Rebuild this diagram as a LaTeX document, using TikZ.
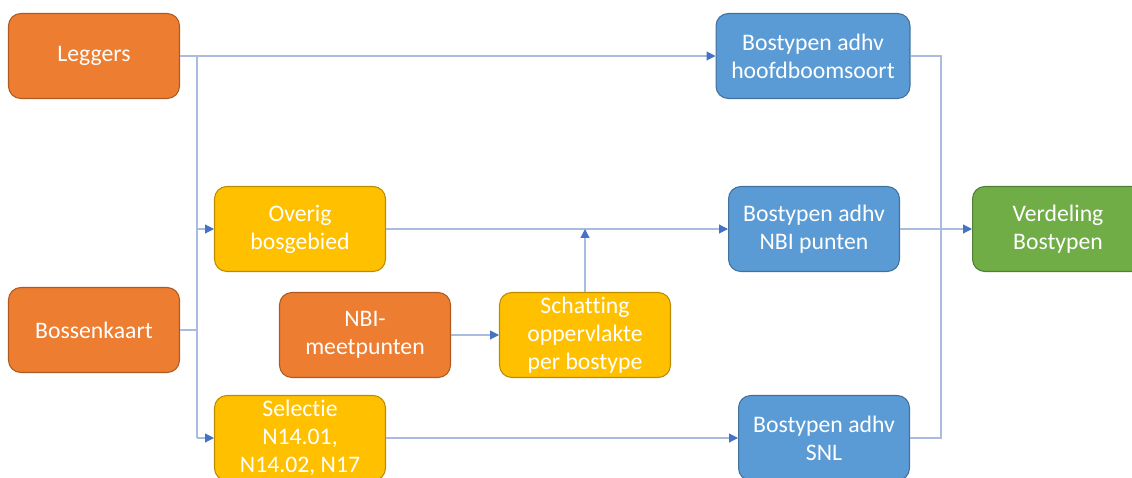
\documentclass[tikz,border=0pt]{standalone}
\usepackage{fontspec}
\setmainfont{Carlito}[Ligatures=NoCommon]
\usepackage{xcolor}
\usepackage{tikz}
\usetikzlibrary{arrows.meta}

\definecolor{srcorange}{HTML}{ED7D31}
\definecolor{srcedge}{HTML}{AE5A21}
\definecolor{stepyellow}{HTML}{FFC000}
\definecolor{stepedge}{HTML}{BC8C00}
\definecolor{typeblue}{HTML}{5B9BD5}
\definecolor{typeedge}{HTML}{41719C}
\definecolor{endgreen}{HTML}{70AD47}
\definecolor{endedge}{HTML}{507E32}
\definecolor{linkline}{HTML}{A9BCE0}
\definecolor{linkhead}{HTML}{4472C4}

\tikzset{
  box/.style={rounded corners=7pt, line width=0.6pt, minimum height=1.7cm,
    minimum width=3.42cm, inner sep=0pt, align=center, text=white,
    font=\fontsize{13.5}{15.9}\selectfont},
  srcbox/.style={box, draw=srcedge, fill=srcorange},
  stepbox/.style={box, draw=stepedge, fill=stepyellow},
  typebox/.style={box, draw=typeedge, fill=typeblue},
  endbox/.style={box, draw=endedge, fill=endgreen},
  wire/.style={draw=linkline, line width=0.6pt},
  link/.style={wire, -{Triangle[length=5pt, width=5pt, color=linkhead]}}
}

\begin{document}
\begin{tikzpicture}[x=0.02cm, y=-0.02cm]
\useasboundingbox (0,0) rectangle (1132,477);

% bronnen
\node[srcbox] (leggers) at (94,56) {Leggers};
\node[srcbox] (bossen) at (94,330) {Bossenkaart};
\node[srcbox] (nbimeet) at (365,335) {NBI-\\meetpunten};

% tussenstappen
\node[stepbox] (overig) at (300,229) {Overig\\bosgebied};
\node[stepbox] (schatting) at (585,335) {Schatting\\oppervlakte\\per bostype};
\node[stepbox] (selectie) at (300,438) {Selectie\\N14.01,\\N14.02, N17};

% bostypen
\node[typebox, minimum width=3.88cm] (hoofd) at (813,56) {Bostypen adhv\\hoofdboomsoort};
\node[typebox] (nbi) at (814,229) {Bostypen adhv\\NBI punten};
\node[typebox] (snl) at (824,438) {Bostypen adhv\\SNL};
\node[endbox] (verdeling) at (1058,229) {Verdeling\\Bostypen};

\coordinate (spine) at (197,0);
\coordinate (collect) at (941,0);

% verbindingen
\draw[link] (leggers) -- (hoofd);
\draw[wire] (spine |- leggers.east) -- (spine |- selectie.west);
\draw[wire] (bossen.east) -- (spine |- bossen.east);
\draw[link] (spine |- overig.west) -- (overig.west);
\draw[link] (spine |- selectie.west) -- (selectie.west);
\draw[link] (overig) -- (nbi);
\draw[link] (nbimeet) -- (schatting);
\draw[link] (schatting.north) -- (schatting.north |- overig.east);
\draw[link] (selectie) -- (snl);
\draw[wire] (hoofd.east) -| (collect |- snl.east) -- (snl.east);
\draw[link] (nbi) -- (verdeling);
\end{tikzpicture}
\end{document}
